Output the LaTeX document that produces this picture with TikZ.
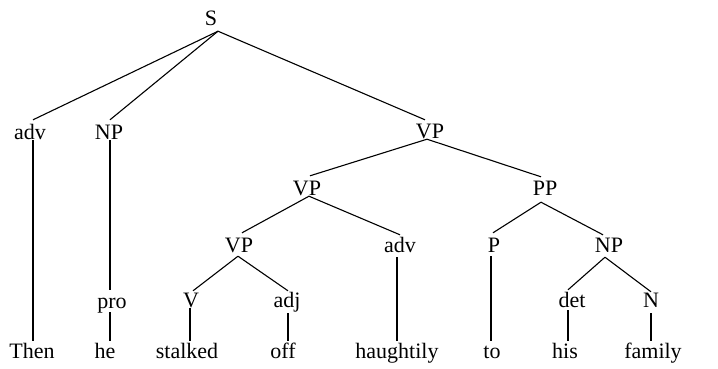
\documentclass[tikz,border=0pt]{standalone}
\usepackage{fontspec}
\setmainfont{Liberation Serif}
\newfontfamily\treefont{Liberation Serif}
\begin{document}
\begin{tikzpicture}[x=1pt,y=-1pt,
  lab/.style={inner sep=0pt, anchor=base, font=\treefont\fontsize{22}{26}\selectfont, text height=#1},
  lab/.default=19pt,
  edge/.style={line width=1.1pt}]
\useasboundingbox (0,0) rectangle (718,368);
% labels (x = text centre, y = baseline)
\node[lab=17pt, text depth=6pt] (S) at (211,25) {S};
\node[lab, text depth=1pt] (adv1) at (30,139) {adv};
\node[lab, text depth=1pt] (np1) at (109,139) {NP};
\node[lab=18pt, text depth=1pt] (vp1) at (430,138) {VP};
\node[lab, text depth=1pt] (vp2) at (307,195) {VP};
\node[lab=18pt, text depth=7pt] (pp) at (545,195) {PP};
\node[lab, text depth=4pt] (vp3) at (239,252) {VP};
\node[lab=17pt, text depth=5pt] (adv2) at (400,252) {adv};
\node[lab, text depth=4pt] (p) at (494,252) {P};
\node[lab=17pt, text depth=5pt] (np2) at (609,252) {NP};
\node[lab=18pt, text depth=4pt] (pro) at (112,308) {pro};
\node[lab=16pt, text depth=1pt] (v) at (191,307) {V};
\node[lab=16pt, text depth=6pt] (adj) at (287,307) {adj};
\node[lab=17pt, text depth=3pt] (det) at (572,307) {det};
\node[lab=15pt, text depth=6pt] (n) at (651,307) {N};
% words
\node[lab=17pt] (w1) at (32,358) {Then};
\node[lab=17pt] (w2) at (105,358) {he};
\node[lab=17pt] (w3) at (187,358) {stalked};
\node[lab=17pt] (w4) at (283,358) {off};
\node[lab=17pt] (w5) at (397,358) {haughtily};
\node[lab=17pt] (w6) at (492,358) {to};
\node[lab=17pt] (w7) at (565,358) {his};
\node[lab=17pt] (w8) at (653,358) {family};
% connectors
\draw[edge] ([xshift=7pt]S.south) -- ([xshift=3pt]adv1.north);
\draw[edge] ([xshift=7pt]S.south) -- ([xshift=1pt]np1.north);
\draw[edge] ([xshift=7pt]S.south) -- ([xshift=-5pt]vp1.north);
\draw[edge] ([xshift=3pt]adv1.south) -- ([xshift=1pt]w1.north);
\draw[edge] ([xshift=1pt]np1.south) -- ([xshift=-2pt]pro.north);
\draw[edge] ([xshift=-2pt]pro.south) -- ([xshift=5pt]w2.north);
\draw[edge] ([xshift=-3pt]vp1.south) -- ([xshift=3pt]vp2.north);
\draw[edge] ([xshift=-3pt]vp1.south) -- ([xshift=-4pt]pp.north);
\draw[edge] ([xshift=2pt]vp2.south) -- ([xshift=3pt]vp3.north);
\draw[edge] ([xshift=2pt]vp2.south) -- (adv2.north);
\draw[edge] ([xshift=-1pt]vp3.south) -- ([xshift=2pt]v.north);
\draw[edge] ([xshift=-1pt]vp3.south) -- ([xshift=1pt]adj.north);
\draw[edge] ([xshift=-1pt]v.south) -- ([xshift=3pt]w3.north);
\draw[edge] ([xshift=1pt]adj.south) -- ([xshift=5pt]w4.north);
\draw[edge] ([xshift=-3pt]adv2.south) -- (w5.north);
\draw[edge] ([xshift=-4pt]pp.south) -- ([xshift=-1pt]p.north);
\draw[edge] ([xshift=-4pt]pp.south) -- ([xshift=-6pt]np2.north);
\draw[edge] ([xshift=-3pt]p.south) -- ([xshift=-1pt]w6.north);
\draw[edge] ([xshift=-4pt]np2.south) -- ([xshift=-4pt]det.north);
\draw[edge] ([xshift=-4pt]np2.south) -- (n.north);
\draw[edge] ([xshift=-4pt]det.south) -- ([xshift=3pt]w7.north);
\draw[edge] (n.south) -- ([xshift=-2pt]w8.north);
\end{tikzpicture}
\end{document}
